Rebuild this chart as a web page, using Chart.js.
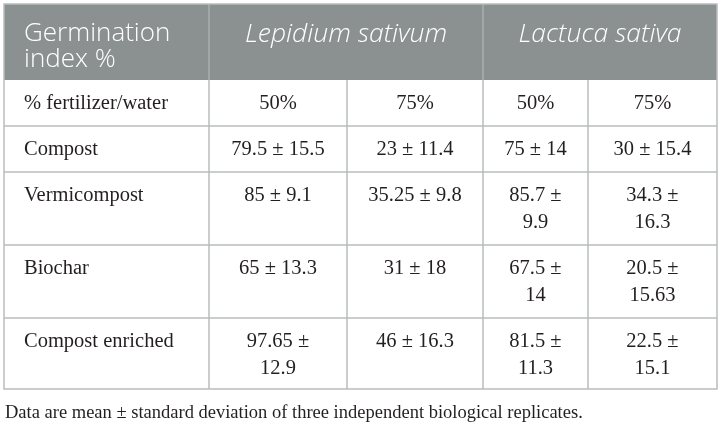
<!DOCTYPE html>
<html>
<head>
<meta charset="utf-8">
<script src="https://cdn.jsdelivr.net/npm/chart.js@4/dist/chart.umd.min.js"></script>
<style>
  html, body { margin: 0; padding: 0; background: #fff; }
</style>
</head>
<body>
<canvas id="germTable" width="723" height="426"></canvas>
<script>
// table content
const headerTitle = ['Germination', 'index %'];
const species = ['Lepidium sativum', 'Lactuca sativa'];
const doseLabel = '% fertilizer/water';
const doses = ['50%', '75%', '50%', '75%'];
const treatments = ['Compost', 'Vermicompost', 'Biochar', 'Compost enriched'];

// mean and standard deviation, one array per column
const lepidium50Mean = [79.5, 85, 65, 97.65];
const lepidium50Sd = [15.5, 9.1, 13.3, 12.9];
const lepidium75Mean = [23, 35.25, 31, 46];
const lepidium75Sd = [11.4, 9.8, 18, 16.3];
const lactuca50Mean = [75, 85.7, 67.5, 81.5];
const lactuca50Sd = [14, 9.9, 14, 11.3];
const lactuca75Mean = [30, 34.3, 20.5, 22.5];
const lactuca75Sd = [15.4, 16.3, 15.63, 15.1];

const footnote = 'Data are mean \u00b1 standard deviation of three independent biological replicates.';

// layout (table units, mapped through the chart scales)
const tableLeft = 4;
const tableTop = 4;
const colWidths = [205, 138, 136, 105, 129];
const headerHeight = 76;
const rowHeights = [46, 46, 73, 73, 71];
const cellPad = 21;
const lineHeight = 27;

const columns = [
  { mean: lepidium50Mean, sd: lepidium50Sd },
  { mean: lepidium75Mean, sd: lepidium75Sd },
  { mean: lactuca50Mean, sd: lactuca50Sd },
  { mean: lactuca75Mean, sd: lactuca75Sd },
];

// cumulative edges
const xEdges = [tableLeft];
colWidths.forEach(w => xEdges.push(xEdges[xEdges.length - 1] + w));
const yEdges = [tableTop, tableTop + headerHeight];
rowHeights.forEach(h => yEdges.push(yEdges[yEdges.length - 1] + h));

const bodyFont = '20.5px "Liberation Serif"';
const noteFont = '18.5px "Liberation Serif"';
const headFont = '300 26px "Open Sans"';
const headItalic = 'italic 300 26.5px "Open Sans"';

// greedy word wrap inside a cell
function wrapText(ctx, text, maxWidth) {
  const words = text.split(' ');
  const lines = [];
  let line = '';
  words.forEach(word => {
    const test = line ? line + ' ' + word : word;
    if (line && ctx.measureText(test).width > maxWidth) {
      lines.push(line);
      line = word;
    } else {
      line = test;
    }
  });
  if (line) lines.push(line);
  return lines;
}

const tablePlugin = {
  id: 'tableDraw',
  afterDraw(chart) {
    const { ctx, scales: { x, y } } = chart;
    const px = v => x.getPixelForValue(v);
    const py = v => y.getPixelForValue(v);
    const left = px(xEdges[0]);
    const right = px(xEdges[xEdges.length - 1]);
    const top = py(yEdges[0]);
    const headBottom = py(yEdges[1]);
    const bottom = py(yEdges[yEdges.length - 1]);

    ctx.save();

    // header background
    ctx.fillStyle = '#8b9091';
    ctx.fillRect(left, top, right - left, headBottom - top);

    // header separators (merged species cells)
    ctx.lineWidth = 1.5;
    ctx.strokeStyle = '#a9aeae';
    [1, 3].forEach(i => {
      ctx.beginPath();
      ctx.moveTo(px(xEdges[i]), top);
      ctx.lineTo(px(xEdges[i]), headBottom);
      ctx.stroke();
    });

    // body grid
    ctx.strokeStyle = '#b9bdbc';
    for (let i = 1; i < xEdges.length - 1; i++) {
      ctx.beginPath();
      ctx.moveTo(px(xEdges[i]), headBottom);
      ctx.lineTo(px(xEdges[i]), bottom);
      ctx.stroke();
    }
    for (let j = 2; j < yEdges.length - 1; j++) {
      ctx.beginPath();
      ctx.moveTo(left, py(yEdges[j]));
      ctx.lineTo(right, py(yEdges[j]));
      ctx.stroke();
    }
    ctx.strokeRect(left, top, right - left, bottom - top);

    // header text
    ctx.fillStyle = '#ffffff';
    ctx.textBaseline = 'middle';
    ctx.font = headFont;
    ctx.textAlign = 'left';
    headerTitle.forEach((t, k) => {
      ctx.fillText(t, px(xEdges[0]) + 20, top + 30 + k * 26);
    });
    ctx.font = headItalic;
    ctx.textAlign = 'center';
    ctx.fillText(species[0], (px(xEdges[1]) + px(xEdges[3])) / 2, top + 30);
    ctx.fillText(species[1], (px(xEdges[3]) + px(xEdges[5])) / 2, top + 30);

    // body text
    ctx.fillStyle = '#231f20';
    ctx.font = bodyFont;
    const rowLabels = [doseLabel].concat(treatments);
    rowLabels.forEach((label, r) => {
      const rowTop = py(yEdges[r + 1]);
      ctx.textAlign = 'left';
      ctx.fillText(label, px(xEdges[0]) + 20, rowTop + 24);
      columns.forEach((col, c) => {
        const cl = px(xEdges[c + 1]);
        const cr = px(xEdges[c + 2]);
        const text = r === 0 ? doses[c] : col.mean[r - 1] + ' \u00b1 ' + col.sd[r - 1];
        const lines = wrapText(ctx, text, cr - cl - 2 * cellPad);
        ctx.textAlign = 'center';
        lines.forEach((ln, k) => {
          ctx.fillText(ln, (cl + cr) / 2, rowTop + 24 + k * lineHeight);
        });
      });
    });

    // footnote
    ctx.textAlign = 'left';
    ctx.font = noteFont;
    ctx.fillText(footnote, left + 1, bottom + 24);

    ctx.restore();
  }
};

new Chart(document.getElementById('germTable'), {
  type: 'scatter',
  data: { datasets: [] },
  options: {
    responsive: false,
    animation: false,
    layout: { padding: 0 },
    plugins: { legend: { display: false }, tooltip: { enabled: false } },
    scales: {
      x: { type: 'linear', display: false, min: 0, max: 723 },
      y: { type: 'linear', display: false, min: 0, max: 426, reverse: true }
    }
  },
  plugins: [tablePlugin]
});
</script>
</body>
</html>
